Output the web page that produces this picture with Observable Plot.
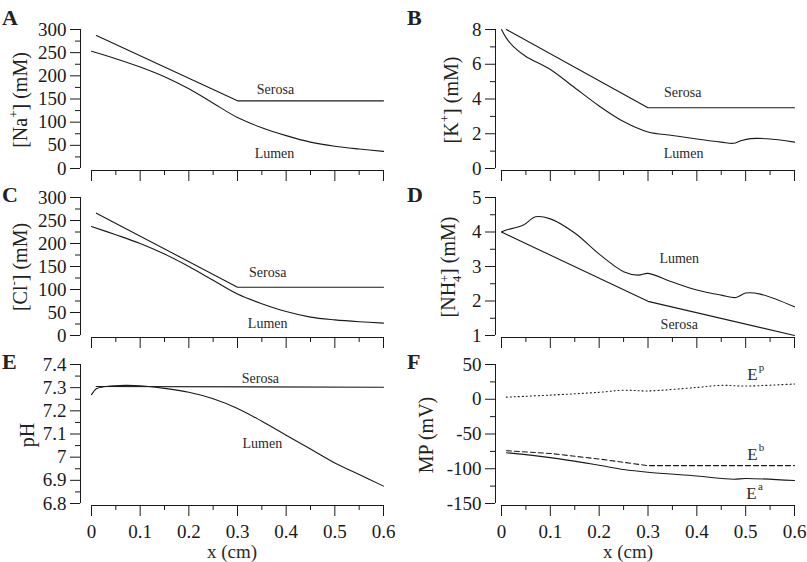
<!DOCTYPE html>
<html><head><meta charset="utf-8">
<script src="https://cdn.jsdelivr.net/npm/d3@7"></script>
<script src="https://cdn.jsdelivr.net/npm/@observablehq/plot@0.6"></script>
<style>
body{margin:0;background:#fff}
#chart{position:relative;width:807px;height:562px;font-family:"Liberation Serif","Times New Roman",serif;color:#222;overflow:hidden}
#chart > svg{position:absolute}
.ylab{position:absolute;transform:translate(-50%,-50%) rotate(-90deg);white-space:nowrap;font-size:20px;line-height:1}
.ylab sup{font-size:0.65em;vertical-align:0.7em;line-height:0}
.stack{display:inline-block;vertical-align:-0.45em;font-size:0.62em;line-height:0.95;text-align:left}
.stack span{display:block}
.letter{position:absolute;font-weight:bold;font-size:22px;line-height:1}
</style></head><body><div id="chart"></div>
<script>
// ---------- data ----------
const xMajor = [0, 0.1, 0.2, 0.3, 0.4, 0.5, 0.6];
const xMinor = [0.05, 0.15, 0.25, 0.35, 0.45, 0.55];

// A: Na+
const xNaSerosa = [0.01, 0.3, 0.6];
const naSerosa = [287, 146, 146];
const xNaLumen = [0, 0.05, 0.1, 0.15, 0.2, 0.25, 0.3, 0.35, 0.4, 0.45, 0.5, 0.55, 0.6];
const naLumen = [253, 237, 219, 198, 172, 141, 110, 88, 71, 57, 48, 42, 37];

// B: K+
const xKSerosa = [0.01, 0.3, 0.6];
const kSerosa = [8.0, 3.5, 3.5];
const xKLumen = [0, 0.01, 0.025, 0.05, 0.1, 0.15, 0.2, 0.25, 0.3, 0.35, 0.4, 0.45, 0.475, 0.49, 0.51, 0.545, 0.6];
const kLumen = [8.0, 7.5, 7.0, 6.45, 5.7, 4.65, 3.6, 2.7, 2.1, 1.9, 1.7, 1.52, 1.45, 1.6, 1.72, 1.71, 1.52];

// C: Cl-
const xClSerosa = [0.01, 0.3, 0.6];
const clSerosa = [266, 105, 105];
const xClLumen = [0, 0.05, 0.1, 0.15, 0.2, 0.25, 0.3, 0.35, 0.4, 0.45, 0.5, 0.55, 0.6];
const clLumen = [237, 219, 200, 177, 150, 120, 90, 69, 52, 40, 34, 30, 27];

// D: NH4+
const xNhSerosa = [0, 0.3, 0.6];
const nhSerosa = [4.0, 1.99, 1.0];
const xNhLumen = [0, 0.01, 0.03, 0.045, 0.07, 0.1, 0.15, 0.2, 0.25, 0.28, 0.3, 0.35, 0.4, 0.45, 0.48, 0.5, 0.53, 0.6];
const nhLumen = [4.0, 4.06, 4.13, 4.2, 4.44, 4.38, 3.97, 3.36, 2.85, 2.75, 2.8, 2.55, 2.32, 2.17, 2.1, 2.23, 2.2, 1.83];

// E: pH
const xPhSerosa = [0.01, 0.6];
const phSerosa = [7.305, 7.302];
const xPhLumen = [0, 0.01, 0.03, 0.07, 0.1, 0.15, 0.2, 0.25, 0.3, 0.35, 0.4, 0.45, 0.5, 0.55, 0.6];
const phLumen = [7.27, 7.295, 7.305, 7.31, 7.308, 7.297, 7.28, 7.252, 7.21, 7.155, 7.095, 7.035, 6.975, 6.925, 6.875];

// F: membrane potentials
const xEp = [0.01, 0.1, 0.2, 0.25, 0.3, 0.4, 0.45, 0.5, 0.6];
const ep = [3, 6, 10, 13, 12, 17, 20, 19, 22];
const xEb = [0.01, 0.1, 0.2, 0.3, 0.6];
const eb = [-74, -78, -86, -95.5, -95.5];
const xEa = [0.01, 0.1, 0.2, 0.25, 0.3, 0.4, 0.475, 0.5, 0.6];
const ea = [-77, -84, -95, -101, -105, -110.5, -115, -114, -117];

// ---------- layout ----------
const cols = [
  {left: 0, width: 400, marginLeft: 80, insetLeft: 11, marginRight: 17, letterX: 2, titleDx: 0},
  {left: 400, width: 407, marginLeft: 95, insetLeft: 6, marginRight: 13, letterX: 407, titleDx: -17}
];
const rows = [
  {top: 0, height: 184, marginTop: 29, marginBottom: 14, letterY: 7},
  {top: 184, height: 168, marginTop: 13, marginBottom: 15, letterY: 184},
  {top: 352, height: 210, marginTop: 12, marginBottom: 57, letterY: 351}
];

const toRows = (xs, ys) => xs.map((x, i) => ({x, y: ys[i]}));
const range = (a, b, s) => d3.range(Math.round((b - a) / s) + 1).map(i => +(a + i * s).toFixed(4));

const panels = [
  {col: 0, row: 0, letter: "A", labX: 20, ylabel: "[Na<sup>+</sup>] (mM)", yDomain: [0, 300], yMajor: range(0, 300, 50), yMinor: range(25, 275, 50),
   series: [{x: xNaSerosa, y: naSerosa, curve: "linear"}, {x: xNaLumen, y: naLumen}],
   labels: [{x: 0.378, y: 170, t: "Serosa"}, {x: 0.376, y: 32, t: "Lumen"}]},
  {col: 1, row: 0, letter: "B", labX: 451, ylabel: "[K<sup>+</sup>] (mM)", yDomain: [0, 8], yMajor: range(0, 8, 2), yMinor: range(1, 7, 2),
   series: [{x: xKSerosa, y: kSerosa, curve: "linear"}, {x: xKLumen, y: kLumen}],
   labels: [{x: 0.371, y: 4.37, t: "Serosa"}, {x: 0.373, y: 0.86, t: "Lumen"}]},
  {col: 0, row: 1, letter: "C", labX: 20, ylabel: "[Cl<sup>-</sup>] (mM)", yDomain: [0, 300], yMajor: range(0, 300, 50), yMinor: range(25, 275, 50),
   series: [{x: xClSerosa, y: clSerosa, curve: "linear"}, {x: xClLumen, y: clLumen}],
   labels: [{x: 0.362, y: 137, t: "Serosa"}, {x: 0.362, y: 26, t: "Lumen"}]},
  {col: 1, row: 1, letter: "D", labX: 451, ylabel: "[NH<span class=\"stack\"><span>+</span><span>4</span></span>] (mM)", yDomain: [1, 5], yMajor: range(1, 5, 1), yMinor: range(1.5, 4.5, 1),
   series: [{x: xNhSerosa, y: nhSerosa, curve: "linear"}, {x: xNhLumen, y: nhLumen}],
   labels: [{x: 0.364, y: 3.22, t: "Lumen"}, {x: 0.364, y: 1.32, t: "Serosa"}]},
  {col: 0, row: 2, letter: "E", labX: 27, ylabel: "pH", yDomain: [6.8, 7.4], yMajor: range(6.8, 7.4, 0.1), yMinor: range(6.85, 7.35, 0.1),
   series: [{x: xPhSerosa, y: phSerosa, curve: "linear"}, {x: xPhLumen, y: phLumen}],
   labels: [{x: 0.347, y: 7.34, t: "Serosa"}, {x: 0.351, y: 7.06, t: "Lumen"}], xTicks: true},
  {col: 1, row: 2, letter: "F", labX: 426, ylabel: "MP (mV)", yDomain: [-150, 50], yMajor: range(-150, 50, 50), yMinor: range(-125, 25, 50),
   series: [{x: xEp, y: ep, dash: "1,3"}, {x: xEb, y: eb, dash: "5,3", curve: "linear"}, {x: xEa, y: ea}],
   eLabels: [{x: 0.514, y: 35, sup: "p"}, {x: 0.514, y: -79.7, sup: "b"}, {x: 0.512, y: -135, sup: "a"}], xTicks: true}
];

const chart = document.getElementById("chart");
const ink = "#1a1a1a", txt = "#2a2a2a";
const fmt = d => String(d);

for (const p of panels) {
  const c = cols[p.col], r = rows[p.row];
  const [y0, y1] = p.yDomain;
  const marks = [
    Plot.ruleX([0], {y1: y0, y2: y1, dx: -c.insetLeft, stroke: ink}),
    Plot.ruleY([y0], {x1: 0, x2: 0.6, dy: 2, stroke: ink}),
    Plot.axisY(p.yMajor, {anchor: "left", tickSize: 10, tickPadding: 4, tickFormat: fmt, color: ink, fontSize: 19, label: null}),
    Plot.axisY(p.yMinor, {anchor: "left", tickSize: 5, tickFormat: () => "", color: ink, label: null}),
    Plot.axisX(xMajor, {anchor: "bottom", tickSize: 11, tickPadding: 8, tickFormat: p.xTicks ? fmt : () => "", color: ink, fontSize: 19, label: null}),
    Plot.axisX(xMinor, {anchor: "bottom", tickSize: 5, tickFormat: () => "", color: ink, label: null})
  ];
  for (const s of p.series) {
    marks.push(Plot.line(toRows(s.x, s.y), {x: "x", y: "y", stroke: ink, strokeWidth: 1.1, curve: s.curve || "catmull-rom", strokeDasharray: s.dash}));
  }
  if (p.labels) marks.push(Plot.text(p.labels, {x: "x", y: "y", text: "t", fontSize: 14, fill: txt}));
  if (p.eLabels) {
    marks.push(Plot.text(p.eLabels, {x: "x", y: "y", text: () => "E", fontSize: 17, fill: txt}));
    marks.push(Plot.text(p.eLabels, {x: "x", y: "y", text: "sup", fontSize: 11, fill: txt, dx: 9, dy: -7}));
  }
  if (p.xTicks) marks.push(Plot.text(["x (cm)"], {frameAnchor: "bottom", lineAnchor: "middle", dy: 46, dx: c.titleDx, fontSize: 19, fill: txt}));

  const svg = Plot.plot({
    width: c.width, height: r.height,
    marginLeft: c.marginLeft, marginRight: c.marginRight, marginTop: r.marginTop, marginBottom: r.marginBottom,
    insetLeft: c.insetLeft, insetBottom: 2,
    x: {domain: [0, 0.6]},
    y: {domain: p.yDomain},
    style: {background: "transparent", fontFamily: "Liberation Serif, Times New Roman, serif", fontSize: "19px", overflow: "visible"},
    marks
  });
  svg.style.left = c.left + "px";
  svg.style.top = r.top + "px";
  chart.appendChild(svg);

  const lab = document.createElement("div");
  lab.className = "ylab";
  lab.innerHTML = p.ylabel;
  lab.style.left = p.labX + "px";
  lab.style.top = (r.top + r.marginTop + (r.height - r.marginTop - r.marginBottom) / 2) + "px";
  chart.appendChild(lab);

  const L = document.createElement("div");
  L.className = "letter";
  L.textContent = p.letter;
  L.style.left = c.letterX + "px";
  L.style.top = r.letterY + "px";
  chart.appendChild(L);
}
</script>
</body></html>
